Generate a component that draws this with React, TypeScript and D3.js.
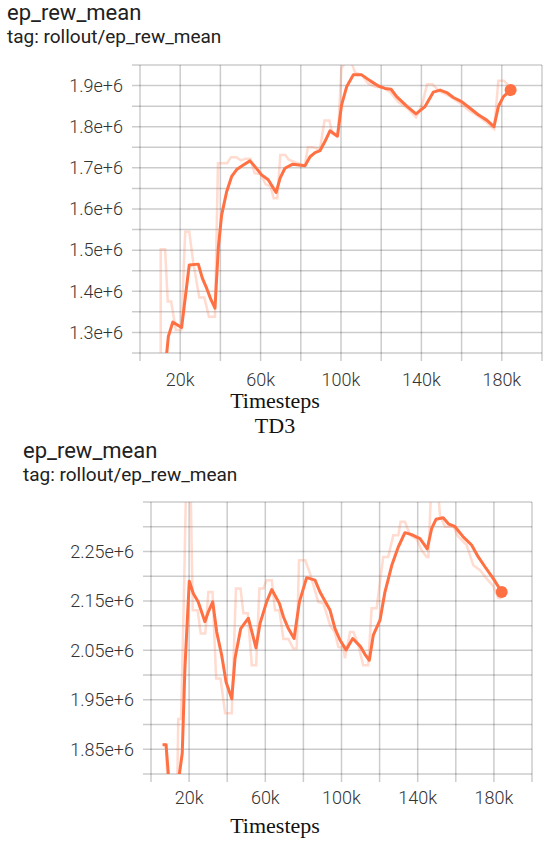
import * as d3 from "d3";

// steps in thousands, values in millions
const td3Raw: [number, number][] = [
  [10.3, 1.1], [10.3, 1.502], [12.5, 1.502], [13.8, 1.375], [15.5, 1.375], [17.8, 1.306], [20.5, 1.306],
  [22.5, 1.545], [24.5, 1.545], [26.5, 1.47], [29.5, 1.385], [32, 1.385], [34.3, 1.338], [37.3, 1.338],
  [38.8, 1.711], [43.3, 1.711], [45.3, 1.726], [48, 1.726], [50.2, 1.718], [52.5, 1.722], [55, 1.722],
  [57, 1.687], [60, 1.685], [62.5, 1.66], [65, 1.655], [66.5, 1.626], [68.3, 1.626], [69.8, 1.731],
  [72.3, 1.731], [74, 1.72], [76.5, 1.715], [82, 1.705], [83.5, 1.75], [86, 1.75], [89.5, 1.745],
  [91.8, 1.815], [94.2, 1.815], [95.8, 1.782], [98.5, 1.778], [100.2, 1.942], [102.5, 1.958], [105, 1.958],
  [107, 1.932], [110.5, 1.925], [113.5, 1.905], [117, 1.897], [121, 1.895], [124.5, 1.884], [128.5, 1.86],
  [133, 1.845], [137.3, 1.823], [139, 1.84], [140.7, 1.86], [142.8, 1.903], [145.5, 1.903], [149, 1.886],
  [154.5, 1.873], [159, 1.858], [163.5, 1.84], [168.5, 1.825], [172.5, 1.81], [176.2, 1.794], [178.3, 1.912],
  [181, 1.912], [184.4, 1.895],
];

const td3Smooth: [number, number][] = [
  [12.3, 1.2], [14.1, 1.29], [16.3, 1.325], [20.7, 1.312], [24.5, 1.464], [29, 1.466], [31, 1.432],
  [33.2, 1.407], [35.2, 1.381], [37.3, 1.359], [39, 1.508], [40.6, 1.585], [43.1, 1.642], [45.6, 1.679],
  [48.1, 1.696], [51.4, 1.707], [54.7, 1.717], [57.2, 1.703], [60.5, 1.683], [63.8, 1.671], [67.7, 1.64],
  [69.7, 1.675], [72.1, 1.699], [76, 1.709], [82.1, 1.705], [84.6, 1.727], [87.1, 1.737], [89.6, 1.742],
  [92, 1.764], [94.5, 1.79], [98.2, 1.777], [100.3, 1.853], [102.8, 1.897], [106.1, 1.926], [110.3, 1.926],
  [114.4, 1.912], [118.6, 1.899], [121.9, 1.893], [124.9, 1.891], [127.7, 1.873], [132.7, 1.85],
  [137.3, 1.831], [141.8, 1.849], [145.9, 1.884], [149.3, 1.889], [152.6, 1.883], [155.9, 1.871],
  [160, 1.861], [164.2, 1.845], [168.3, 1.829], [172.5, 1.816], [176.1, 1.8], [178.3, 1.849],
  [180.8, 1.873], [184.4, 1.889],
];

const secondRaw: [number, number][] = [
  [6.1, 1.859], [8, 1.859], [9.2, 1.7], [13.5, 1.7], [14.3, 1.911], [15.8, 1.911], [17.5, 2.2], [18.7, 2.45],
  [20.5, 2.45], [21.9, 2.131], [24.5, 2.131], [26.1, 2.084], [28.5, 2.084], [30.1, 2.168], [32.3, 2.168],
  [34.2, 1.993], [36.5, 1.993], [38.9, 1.923], [42.4, 1.923], [44.6, 2.175], [47, 2.175], [48.5, 2.125],
  [50.8, 2.125], [52.9, 2.02], [55.2, 2.02], [56.9, 2.175], [59, 2.175], [60.7, 2.192], [63.4, 2.192],
  [65.1, 2.131], [67.4, 2.131], [69.5, 2.073], [72.1, 2.073], [74.7, 2.054], [76.5, 2.054], [77.7, 2.232],
  [81, 2.232], [83.5, 2.205], [87.8, 2.148], [90.5, 2.145], [94, 2.101], [96.6, 2.085], [98.3, 2.057],
  [101, 2.055], [101.8, 2.034], [104.5, 2.087], [106.3, 2.087], [108.9, 2.06], [111.4, 2.02], [114, 2.02],
  [115.8, 2.135], [118.4, 2.135], [121.9, 2.239], [124.5, 2.239], [127.2, 2.283], [129.8, 2.283],
  [131, 2.31], [133.3, 2.31], [136, 2.283], [139.5, 2.275], [142.1, 2.252], [144.7, 2.239], [145.6, 2.239],
  [147.3, 2.4], [150, 2.4], [151.7, 2.323], [154.3, 2.3], [158.7, 2.3], [161.3, 2.28], [165.7, 2.263],
  [169.2, 2.222], [172.7, 2.212], [176.2, 2.195], [179.7, 2.18], [182.3, 2.156], [184.1, 2.156],
];

const secondSmooth: [number, number][] = [
  [6.1, 1.859], [7.9, 1.859], [9.1, 1.8], [11.5, 1.76], [14.9, 1.8], [16.4, 1.842], [17.8, 2.014],
  [20.1, 2.19], [22.2, 2.165], [24.8, 2.148], [28.3, 2.108], [30.1, 2.128], [32.4, 2.148], [34.5, 2.087],
  [37.1, 2.04], [39.4, 1.986], [42.4, 1.952], [44.1, 2.034], [47.1, 2.094], [51.1, 2.115], [53.4, 2.081],
  [55.1, 2.055], [57.2, 2.104], [60.7, 2.148], [63.4, 2.173], [67.4, 2.145], [69.5, 2.118], [72.1, 2.094],
  [75.1, 2.074], [77.9, 2.148], [81.7, 2.197], [86.1, 2.192], [88.7, 2.168], [94, 2.131], [96.6, 2.094],
  [99.2, 2.071], [102.4, 2.051], [105.9, 2.074], [110.1, 2.057], [112.3, 2.042], [114.6, 2.03],
  [116.7, 2.081], [120.2, 2.111], [122.8, 2.168], [126.4, 2.222], [129.8, 2.259], [133.3, 2.288],
  [136.8, 2.284], [141.2, 2.276], [145, 2.255], [147.3, 2.296], [149.6, 2.315], [153.4, 2.318],
  [156.1, 2.306], [159.6, 2.3], [164, 2.279], [168.3, 2.263], [171.8, 2.239], [175.3, 2.219],
  [179.7, 2.195], [184.1, 2.168],
];

const xGridSteps = d3.range(0, 201, 20);
const xTickLabels = [20, 60, 100, 140, 180];
const td3YTicks = [1.3, 1.4, 1.5, 1.6, 1.7, 1.8, 1.9];
const secondYTicks = [1.85, 1.95, 2.05, 2.15, 2.25];

const ORANGE = "#ff7043";

type ChartProps = {
  id: string;
  raw: [number, number][];
  smooth: [number, number][];
  yDomain: [number, number];
  yTicks: number[];
  box: { left: number; right: number; top: number; bottom: number };
  titleX: number;
  titleY: number;
  tickGap: number;
  labelGap: number;
  caption?: string;
};

function Chart({ id, raw, smooth, yDomain, yTicks, box, titleX, titleY, tickGap, labelGap, caption }: ChartProps) {
  const x = d3.scaleLinear().domain([0, 200]).range([box.left, box.right]);
  const y = d3.scaleLinear().domain(yDomain).range([box.bottom, box.top]);
  const line = d3
    .line<[number, number]>()
    .x((d) => x(d[0]))
    .y((d) => y(d[1]));

  // horizontal grid every 0.05e6
  const nLines = Math.round((yDomain[1] - yDomain[0]) / 0.05);
  const yGrid = d3.range(0, nLines + 1).map((i) => yDomain[0] + i * 0.05);
  const last = smooth[smooth.length - 1];
  const grid = "rgba(0,0,0,0.2)";

  return (
    <g>
      <text x={titleX} y={titleY} fontFamily="Roboto" fontSize={22} fill="#212121">
        ep_rew_mean
      </text>
      <text x={titleX} y={titleY + 23} fontFamily="Roboto" fontSize={19} fill="#212121">
        tag: rollout/ep_rew_mean
      </text>
      <defs>
        <clipPath id={id}>
          <rect x={box.left} y={box.top} width={box.right - box.left} height={box.bottom - box.top} />
        </clipPath>
      </defs>
      {yGrid.map((v, i) => (
        <line key={"h" + i} x1={box.left - 8} x2={box.right} y1={y(v)} y2={y(v)} stroke={grid} strokeWidth={1.5} />
      ))}
      {xGridSteps.map((s) => (
        <line key={"v" + s} x1={x(s)} x2={x(s)} y1={box.top} y2={box.bottom + 8} stroke={grid} strokeWidth={1.5} />
      ))}
      {yTicks.map((t) => (
        <text
          key={"yl" + t}
          x={box.left - 17}
          y={y(t)}
          dy="0.35em"
          textAnchor="end"
          fontFamily="Roboto"
          fontWeight={300}
          fontSize={18}
          fill="#333"
        >
          {t + "e+6"}
        </text>
      ))}
      {xTickLabels.map((t) => (
        <text
          key={"xl" + t}
          x={x(t)}
          y={box.bottom + tickGap}
          textAnchor="middle"
          fontFamily="Roboto"
          fontWeight={300}
          fontSize={18}
          fill="#333"
        >
          {t + "k"}
        </text>
      ))}
      <g clipPath={`url(#${id})`}>
        <path d={line(raw) ?? ""} fill="none" stroke={ORANGE} strokeOpacity={0.25} strokeWidth={2.5} />
        <path d={line(smooth) ?? ""} fill="none" stroke={ORANGE} strokeWidth={3} strokeLinejoin="round" />
      </g>
      <circle cx={x(last[0])} cy={y(last[1])} r={6} fill={ORANGE} />
      <text x={275} y={box.bottom + labelGap} textAnchor="middle" fontFamily="Liberation Serif" fontSize={22} fill="#111">
        Timesteps
      </text>
      {caption && (
        <text x={275} y={box.bottom + labelGap + 25} textAnchor="middle" fontFamily="Liberation Serif" fontSize={22} fill="#111">
          {caption}
        </text>
      )}
    </g>
  );
}

export default function App() {
  return (
    <svg
      width={550}
      height={843}
      style={{ position: "absolute", left: 0, top: 0, background: "#fff" }}
    >
      <Chart
        id="clipTop"
        raw={td3Raw}
        smooth={td3Smooth}
        yDomain={[1.25, 1.95]}
        yTicks={td3YTicks}
        box={{ left: 140, right: 542, top: 65, bottom: 353 }}
        titleX={7}
        titleY={20}
        tickGap={33}
        labelGap={55}
        caption="TD3"
      />
      <Chart
        id="clipBottom"
        raw={secondRaw}
        smooth={secondSmooth}
        yDomain={[1.8, 2.35]}
        yTicks={secondYTicks}
        box={{ left: 151, right: 532, top: 502, bottom: 774 }}
        titleX={23}
        titleY={458}
        tickGap={30}
        labelGap={59}
      />
    </svg>
  );
}
